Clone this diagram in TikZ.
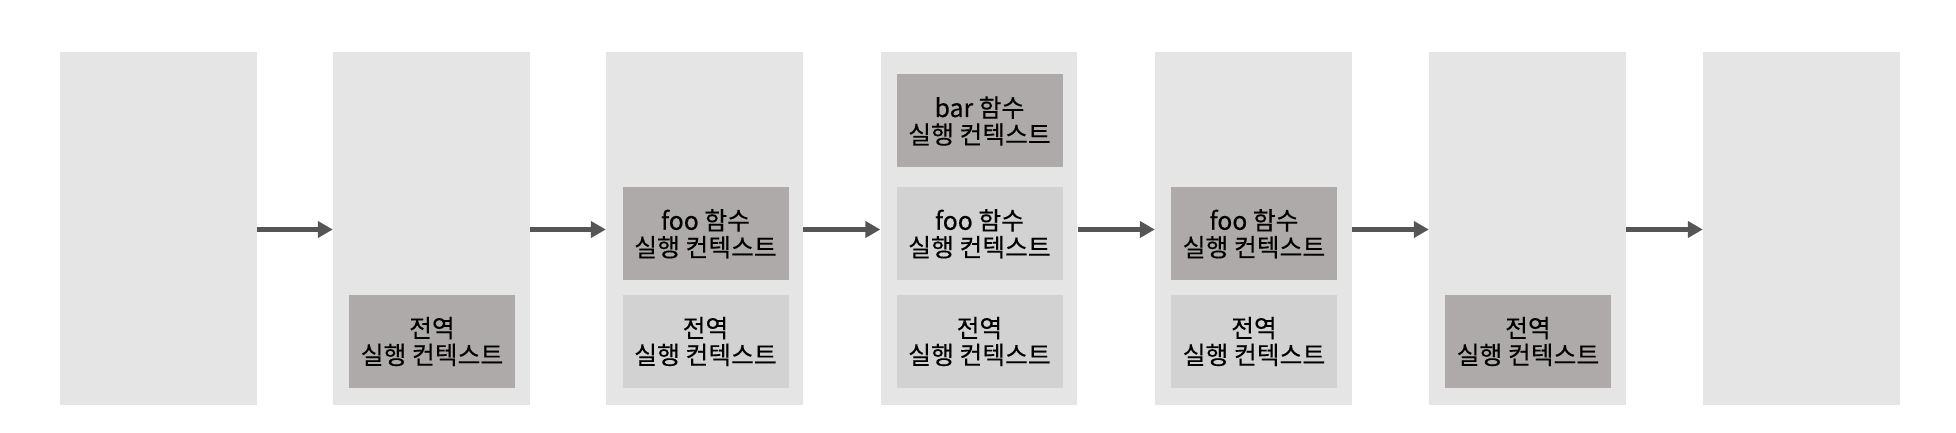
\documentclass[tikz,border=0pt]{standalone}
\usepackage{fontspec}
\newfontfamily\krfont[FakeBold=0.3]{Noto Sans CJK KR}
\usetikzlibrary{arrows.meta}
\definecolor{panelbg}{RGB}{230,229,230}
\definecolor{darkbox}{RGB}{173,170,169}
\definecolor{lightbox}{RGB}{211,210,211}
\definecolor{arrowcol}{RGB}{85,85,85}
\tikzset{
  panel/.style={rectangle, inner sep=0pt, fill=panelbg, minimum width=98.25pt, minimum height=176.5pt},
  ctxbox/.style={rectangle, inner sep=0pt, minimum width=83pt, minimum height=46.5pt, align=center,
     font=\krfont\fontsize{12.4}{13.4}\selectfont, text=black},
  ctxdark/.style={ctxbox, fill=darkbox},
  ctxlight/.style={ctxbox, fill=lightbox},
  flow/.style={draw=arrowcol, line width=2.75pt, -{Triangle[length=7.5pt,width=8pt]}, shorten >=0pt}
}
\begin{document}
\begin{tikzpicture}[x=0.5pt,y=-0.5pt]
\fill[white] (0,0) rectangle (1956,433);
\useasboundingbox (0,0) rectangle (1956,433);
% panels
\node[panel] (p1) at (158.5,228.5) {};
\node[panel] (p2) at (431.5,228.5) {};
\node[panel] (p3) at (704.5,228.5) {};
\node[panel] (p4) at (979,228.5) {};
\node[panel] (p5) at (1253.5,228.5) {};
\node[panel] (p6) at (1527.5,228.5) {};
\node[panel] (p7) at (1801.5,228.5) {};
% panel 2
\node[ctxdark] (g2) at (432,341.5) {전역\\실행 컨텍스트};
% panel 3
\node[ctxdark] (f3) at (705.5,233.75) {foo 함수\\실행 컨텍스트};
\node[ctxlight] (g3) at (705.5,341.5) {전역\\실행 컨텍스트};
% panel 4
\node[ctxdark] (b4) at (979.5,121) {bar 함수\\실행 컨텍스트};
\node[ctxlight] (f4) at (979.5,233.75) {foo 함수\\실행 컨텍스트};
\node[ctxlight] (g4) at (979.5,341.5) {전역\\실행 컨텍스트};
% panel 5
\node[ctxdark] (f5) at (1254,233.75) {foo 함수\\실행 컨텍스트};
\node[ctxlight] (g5) at (1254,341.5) {전역\\실행 컨텍스트};
% panel 6
\node[ctxdark] (g6) at (1528,341.5) {전역\\실행 컨텍스트};
% arrows
\draw[flow] ([yshift=-0.5pt]p1.east) -- ([yshift=-0.5pt]p2.west);
\draw[flow] ([yshift=-0.5pt]p2.east) -- ([yshift=-0.5pt]p3.west);
\draw[flow] ([yshift=-0.5pt]p3.east) -- ([yshift=-0.5pt]p4.west);
\draw[flow] ([yshift=-0.5pt]p4.east) -- ([yshift=-0.5pt]p5.west);
\draw[flow] ([yshift=-0.5pt]p5.east) -- ([yshift=-0.5pt]p6.west);
\draw[flow] ([yshift=-0.5pt]p6.east) -- ([yshift=-0.5pt]p7.west);
\end{tikzpicture}
\end{document}
